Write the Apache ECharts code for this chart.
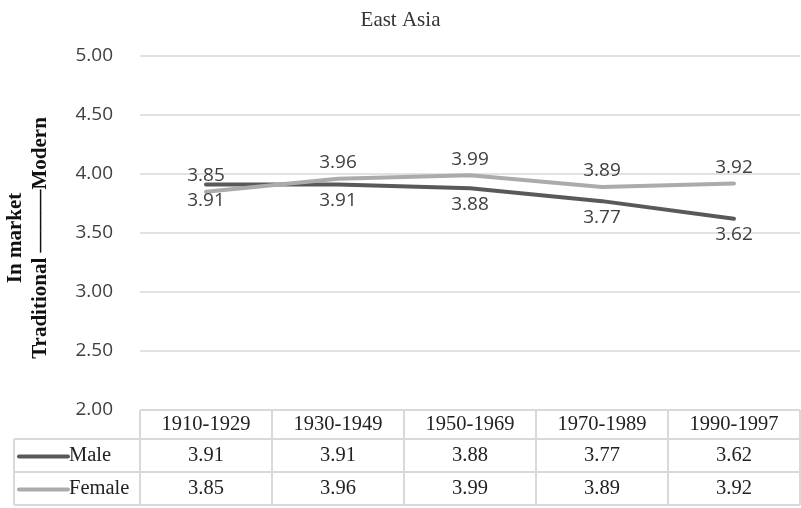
<!DOCTYPE html>
<html>
<head>
<meta charset="utf-8">
<script src="https://cdn.jsdelivr.net/npm/echarts@6/dist/echarts.min.js"></script>
<style>
  html, body { margin: 0; padding: 0; background: #fff; }
  #main { width: 801px; height: 508px; }
</style>
</head>
<body>
<div id="main"></div>
<script>
  // data
  var categories = ['1910-1929', '1930-1949', '1950-1969', '1970-1989', '1990-1997'];
  var male = [3.91, 3.91, 3.88, 3.77, 3.62];
  var female = [3.85, 3.96, 3.99, 3.89, 3.92];
  var seriesNames = ['Male', 'Female'];
  var colors = ['#595959', '#ababab'];

  var chart = echarts.init(document.getElementById('main'));
  var serif = '"Liberation Serif", "Times New Roman", serif';
  var sans = '"Open Sans", sans-serif';

  function lineSeries(name, data, color, pos) {
    return {
      name: name,
      type: 'line',
      data: data,
      symbol: 'circle',
      symbolSize: 1,
      itemStyle: { color: color },
      lineStyle: { color: color, width: 4, cap: 'round' },
      label: {
        show: true, position: pos, distance: 6,
        fontFamily: sans, fontSize: 19, color: '#404040',
        formatter: function (p) { return p.value.toFixed(2); }
      }
    };
  }

  chart.setOption({
    animation: false,
    title: {
      text: 'East Asia',
      left: 'center',
      top: 5,
      textStyle: { fontFamily: serif, fontWeight: 'normal', fontSize: 21, color: '#333' }
    },
    grid: { left: 140, right: 1, top: 56, bottom: 98 },
    xAxis: {
      type: 'category',
      data: categories,
      boundaryGap: true,
      axisLine: { show: false },
      axisTick: { show: false },
      axisLabel: { show: false }
    },
    yAxis: {
      type: 'value',
      min: 2,
      max: 5,
      interval: 0.5,
      axisLine: { show: false },
      axisTick: { show: false },
      axisLabel: {
        margin: 27,
        fontFamily: sans,
        fontSize: 19,
        color: '#404040',
        formatter: function (v) { return v.toFixed(2); }
      },
      splitLine: { lineStyle: { color: '#d9d9d9', width: 1.5 } }
    },
    series: [
      lineSeries(seriesNames[0], male, colors[0], 'bottom'),
      lineSeries(seriesNames[1], female, colors[1], 'top')
    ]
  });

  // data table below the plot, placed from the category axis
  var centers = categories.map(function (c) {
    return chart.convertToPixel({ xAxisIndex: 0 }, c);
  });
  var cellW = centers[1] - centers[0];
  var tLeft = centers[0] - cellW / 2;
  var tRight = centers[centers.length - 1] + cellW / 2;
  var tTop = chart.convertToPixel({ yAxisIndex: 0 }, 2);
  var y1 = tTop + 29, y2 = y1 + 33, y3 = y2 + 33;
  var keyLeft = 14;
  var gridColor = '#d9d9d9';

  var g = [];
  function hline(x1, x2, y) {
    g.push({ type: 'line', shape: { x1: x1, y1: y, x2: x2, y2: y }, style: { stroke: gridColor, lineWidth: 2 } });
  }
  function vline(x, ya, yb) {
    g.push({ type: 'line', shape: { x1: x, y1: ya, x2: x, y2: yb }, style: { stroke: gridColor, lineWidth: 2 } });
  }
  function txt(s, x, y, align) {
    g.push({ type: 'text', x: x, y: y,
      style: { text: s, fontFamily: serif, fontSize: 20.5, fill: '#222', stroke: 'none', lineWidth: 0,
        align: align || 'center', verticalAlign: 'middle' } });
  }

  hline(tLeft, tRight, tTop);
  hline(keyLeft, tRight, y1);
  hline(keyLeft, tRight, y2);
  hline(keyLeft, tRight, y3);
  vline(keyLeft, y1, y3);
  for (var i = 0; i <= categories.length; i++) {
    vline(tLeft + i * cellW, tTop, y3);
  }

  var rowsMid = [(tTop + y1) / 2, (y1 + y2) / 2, (y2 + y3) / 2];
  categories.forEach(function (c, i) {
    txt(c, centers[i], rowsMid[0]);
    txt(male[i].toFixed(2), centers[i], rowsMid[1]);
    txt(female[i].toFixed(2), centers[i], rowsMid[2]);
  });

  // legend keys
  [0, 1].forEach(function (k) {
    var ym = rowsMid[k + 1] + 1;
    g.push({ type: 'line', shape: { x1: 19, y1: ym, x2: 68, y2: ym },
      style: { stroke: colors[k], lineWidth: 4, lineCap: 'round' } });
    txt(seriesNames[k], 69, rowsMid[k + 1], 'left');
  });

  // y axis title
  g.push({
    type: 'text', x: 28.5, y: 238, rotation: Math.PI / 2,
    style: {
      text: 'In market\nTraditional ––––––Modern',
      fontFamily: serif, fontSize: 21, fontWeight: 'bold', fill: '#111', stroke: 'none', lineWidth: 0,
      align: 'center', verticalAlign: 'middle', lineHeight: 25
    }
  });

  chart.setOption({ graphic: g });
</script>
</body>
</html>
